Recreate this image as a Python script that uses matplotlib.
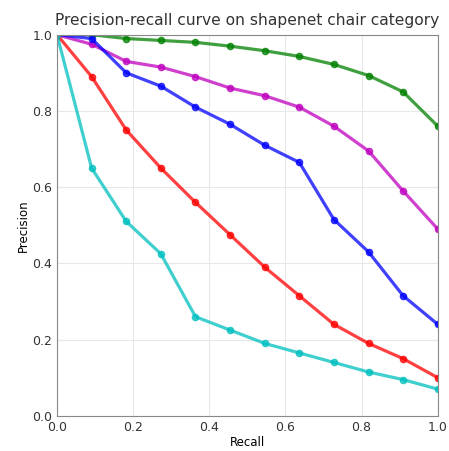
import matplotlib
matplotlib.use('Agg')
import matplotlib.pyplot as plt
import numpy as np

recall = np.arange(12) / 11.0
prec_green = [1.0, 1.0, 0.99, 0.985, 0.98, 0.97, 0.958, 0.943, 0.922, 0.893, 0.85, 0.76]
prec_magenta = [1.0, 0.975, 0.93, 0.915, 0.89, 0.86, 0.84, 0.81, 0.76, 0.695, 0.59, 0.49]
prec_blue = [1.0, 0.99, 0.9, 0.865, 0.81, 0.765, 0.71, 0.665, 0.515, 0.43, 0.315, 0.24]
prec_red = [1.0, 0.89, 0.75, 0.65, 0.56, 0.475, 0.39, 0.315, 0.24, 0.19, 0.15, 0.1]
prec_cyan = [1.0, 0.65, 0.51, 0.425, 0.26, 0.225, 0.19, 0.165, 0.14, 0.115, 0.095, 0.07]

series = [(prec_green, (0, 0.5, 0)), (prec_magenta, (0.75, 0, 0.75)),
          (prec_blue, (0, 0, 1)), (prec_red, (1, 0, 0)), (prec_cyan, (0, 0.75, 0.75))]

fig = plt.figure(figsize=(4.49, 4.51), dpi=100)
ax = fig.add_axes([0.127, 0.078, 0.848, 0.845])
for p, c in series:
    ax.plot(recall, p, '-o', color=c, lw=2.3, ms=4.5, alpha=0.75, mec=c)
ax.set_xlim(0, 1)
ax.set_ylim(0, 1)
ax.set_xticks(np.arange(0, 1.01, 0.2))
ax.set_yticks(np.arange(0, 1.01, 0.2))
ax.grid(True, color='#e8e8e8', lw=0.8)
for s in ax.spines.values():
    s.set_color('#888888')
ax.tick_params(labelsize=9, colors='#333333', length=0)
ax.set_xlabel('Recall', fontsize=8.5, labelpad=2)
ax.set_ylabel('Precision', fontsize=8.5, labelpad=2)
ax.set_title('Precision-recall curve on shapenet chair category', fontsize=11.2, color='#333333', pad=7)
fig.savefig('out.png', dpi=100)
